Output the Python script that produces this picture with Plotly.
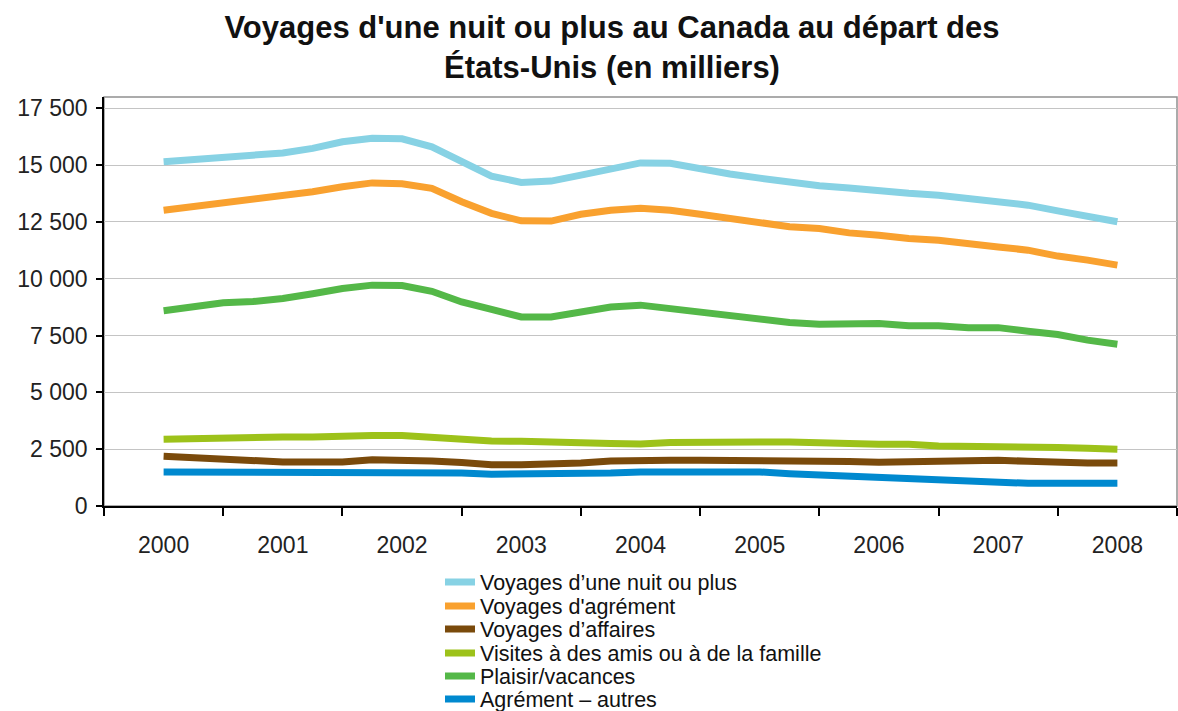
import plotly.graph_objects as go

# Quarterly periods from 2000 Q1 to 2008 Q1 (decimal years)
periods = [2000 + q / 4 for q in range(33)]

year_ticks = [2000, 2001, 2002, 2003, 2004, 2005, 2006, 2007, 2008]
year_labels = ["2000", "2001", "2002", "2003", "2004", "2005", "2006", "2007", "2008"]
y_ticks = [0, 2500, 5000, 7500, 10000, 12500, 15000, 17500]
y_labels = ["0", "2 500", "5 000", "7 500", "10 000", "12 500", "15 000", "17 500"]

nuit = [15150, 15250, 15320, 15430, 15540, 15740, 16030, 16180, 16160, 15810, 15180,
        14520, 14240, 14300, 14560, 14860, 15100, 15080, 14830, 14610, 14430, 14240,
        14090, 14000, 13860, 13760, 13680, 13540, 13390, 13240, 12990, 12770, 12510]
agrement = [13020, 13170, 13320, 13460, 13610, 13830, 14050, 14220, 14180, 13980, 13390,
            12880, 12550, 12540, 12840, 13020, 13100, 13020, 12840, 12660, 12430, 12290,
            12210, 12020, 11920, 11770, 11700, 11580, 11400, 11260, 11000, 10820, 10600]
affaires = [2190, 2110, 2040, 2010, 1940, 1940, 1940, 2030, 2040, 1980, 1910,
            1820, 1820, 1820, 1890, 1980, 2030, 2010, 2010, 2010, 2010, 2010,
            2000, 1960, 1920, 1950, 2000, 2010, 2010, 1970, 1900, 1890, 1890]
visites = [2940, 2980, 3020, 3040, 3040, 3040, 3100, 3100, 3100, 3010, 2970,
           2860, 2850, 2850, 2780, 2750, 2730, 2790, 2820, 2820, 2820, 2820,
           2820, 2750, 2720, 2720, 2640, 2640, 2570, 2570, 2570, 2540, 2500]
plaisir = [8590, 8790, 8940, 9000, 9130, 9340, 9570, 9720, 9700, 9450, 8980,
           8650, 8320, 8320, 8570, 8760, 8840, 8690, 8540, 8400, 8180, 8080,
           8000, 8030, 8030, 7930, 7930, 7850, 7850, 7690, 7550, 7300, 7120]
autres = [1500, 1500, 1500, 1500, 1500, 1500, 1500, 1500, 1500, 1500, 1450,
          1400, 1400, 1400, 1400, 1450, 1500, 1500, 1500, 1500, 1500, 1420,
          1370, 1280, 1200, 1170, 1120, 1100, 1060, 1000, 1000, 1000, 1000]

series = [
    ("Voyages d\u2019une nuit ou plus", nuit, "#87D2E4"),
    ("Voyages d'agrément", agrement, "#F9A12F"),
    ("Voyages d\u2019affaires", affaires, "#7A4A0B"),
    ("Visites à des amis ou à de la famille", visites, "#9DC21A"),
    ("Plaisir/vacances", plaisir, "#54B848"),
    ("Agrément \u2013 autres", autres, "#0089CF"),
]

FONT = "Liberation Sans, Arial, Helvetica, sans-serif"

# plot area geometry in pixels
L, R, T, B = 104, 1177, 97, 506
W_, H_ = 1178, 711

fig = go.Figure()
legend_rows = [582, 606, 629, 653, 676, 699]
layout_legends = {}
for k, (name, vals, col) in enumerate(series):
    lg = "legend" if k == 0 else f"legend{k+1}"
    fig.add_trace(go.Scatter(
        x=periods, y=vals, mode="lines", name=name,
        line=dict(color=col, width=7),
        legend=lg,
    ))
    layout_legends[lg] = dict(
        x=(440 - L) / (R - L), xanchor="left",
        y=(B - legend_rows[k]) / (B - T), yanchor="middle",
        font=dict(family=FONT, size=21.5, color="#111"),
        bgcolor="rgba(0,0,0,0)", borderwidth=0,
        itemwidth=30,
    )

fig.update_layout(
    width=W_, height=H_,
    margin=dict(l=L, r=W_ - R, t=T, b=H_ - B, pad=0, autoexpand=False),
    paper_bgcolor="white", plot_bgcolor="white",
    title=dict(
        text="Voyages d'une nuit ou plus au Canada au départ des<br>États-Unis (en milliers)",
        x=612 / W_, xanchor="center", y=1 - 38 / H_, yanchor="top",
        font=dict(family=FONT, size=31, color="#111", weight="bold"),
    ),
    showlegend=True,
    **layout_legends,
)

fig.update_xaxes(
    range=[1999.5, 2008.5], automargin=False,
    tickmode="array", tickvals=year_ticks, ticktext=year_labels,
    ticks="", showgrid=False, zeroline=False,
    showline=True, linecolor="black", linewidth=1.5,
    tickfont=dict(family=FONT, size=23, color="#222"),
    ticklabelstandoff=18,
    minor=dict(tickmode="array", tickvals=[1999.5 + i for i in range(10)],
               ticks="outside", ticklen=8, tickwidth=1.5, tickcolor="black",
               showgrid=False),
)
fig.update_yaxes(
    range=[0, 18000], automargin=False,
    tickmode="array", tickvals=y_ticks, ticktext=y_labels,
    ticks="outside", ticklen=6, tickwidth=1.5, tickcolor="black",
    showgrid=True, gridcolor="#C4C4C4", gridwidth=1,
    zeroline=False,
    showline=True, linecolor="black", linewidth=1.5,
    tickfont=dict(family=FONT, size=23, color="#222"),
    ticklabelstandoff=4,
)

# plot-area frame (top / right border)
fig.add_shape(type="rect", xref="paper", yref="paper", x0=0, x1=1, y0=0, y1=1,
              line=dict(color="#909090", width=1.5), layer="below")

fig.write_html("out.html",
               config={"displayModeBar": False},
               post_script="document.body.style.margin='0';document.body.style.overflow='hidden';")
